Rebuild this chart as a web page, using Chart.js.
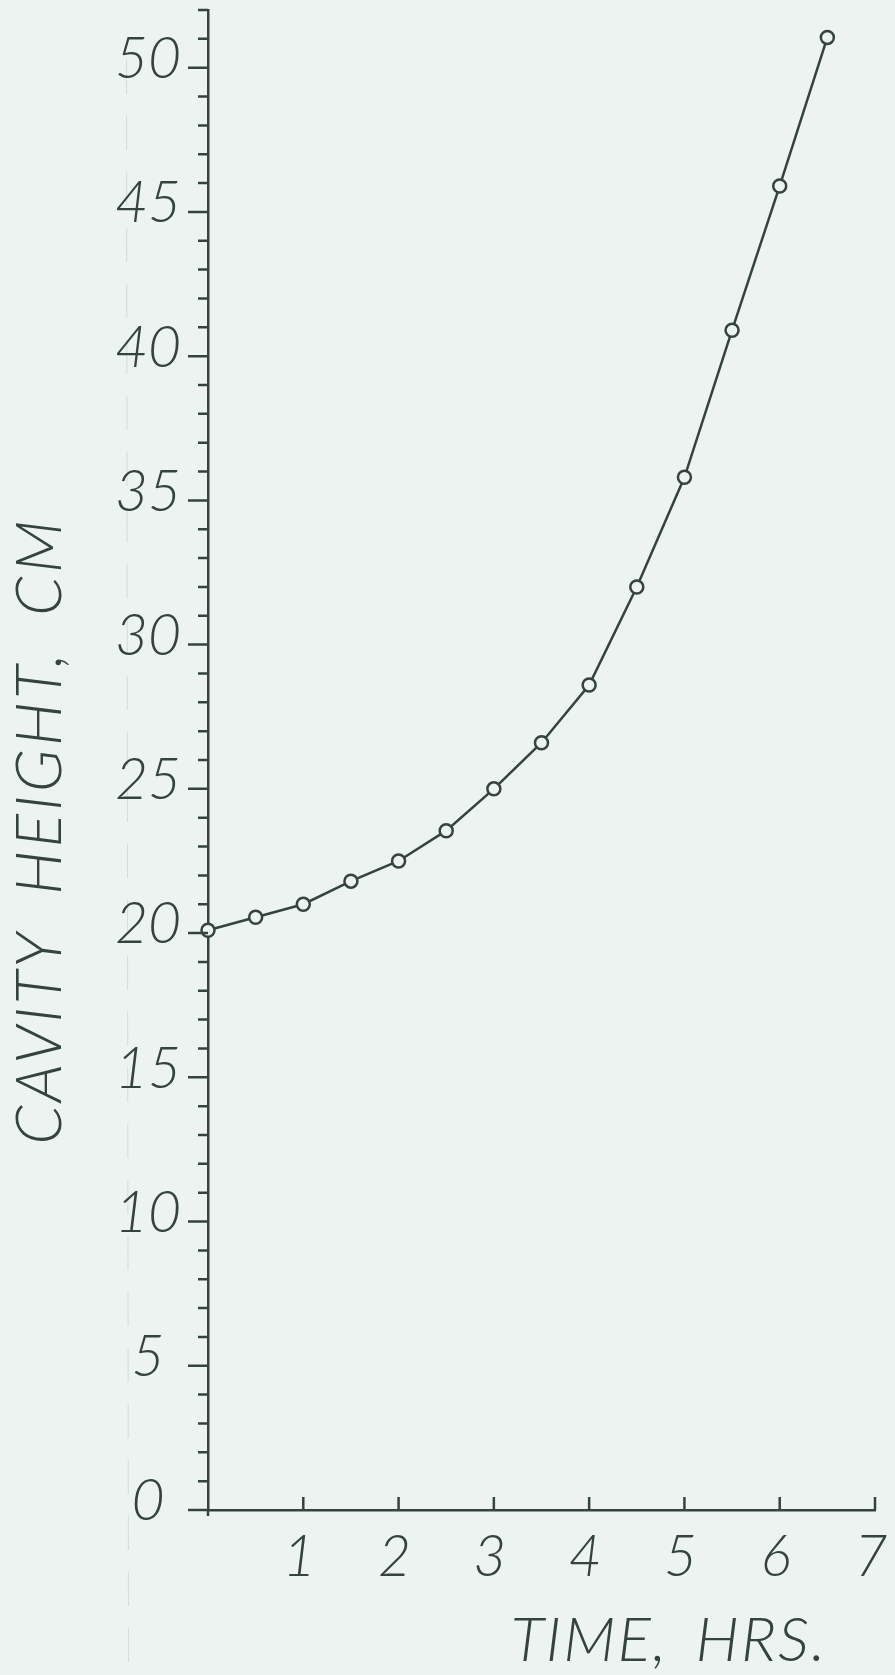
<!DOCTYPE html>
<html>
<head>
<meta charset="utf-8">
<title>Cavity height vs time</title>
<script src="https://cdn.jsdelivr.net/npm/chart.js@4"></script>
<style>
  html, body { margin: 0; padding: 0; background: #edf3f1; }
  canvas { display: block; }
</style>
</head>
<body>
<canvas id="chart" width="895" height="1675"></canvas>
<script>
// Measured cavity height over time
const timeHrs = [0, 0.5, 1, 1.5, 2, 2.5, 3, 3.5, 4, 4.5, 5, 5.5, 6, 6.5];
const cavityHeightCm = [20.1, 20.55, 21.0, 21.8, 22.5, 23.55, 25.0, 26.6, 28.6, 32.0, 35.8, 40.9, 45.9, 51.05];

// Axis labels
const xTickLabels = ['', '1', '2', '3', '4', '5', '6', '7'];
const yTickLabels = ['0', '5', '10', '15', '20', '25', '30', '35', '40', '45', '50'];
const xTitle = 'TIME, HRS.';
const yTitle = 'CAVITY HEIGHT, CM';

const INK = '#34433f';
const PAPER = '#edf3f1';
const LETTER = 'Lato, "Open Sans", "DejaVu Sans", sans-serif';

// Paper background plus the faint fold line running down the sheet
const paper = {
  id: 'paper',
  beforeDraw(chart) {
    const { ctx, width, height } = chart;
    ctx.save();
    ctx.fillStyle = PAPER;
    ctx.fillRect(0, 0, width, height);
    ctx.strokeStyle = 'rgba(150,165,163,0.3)';
    ctx.lineWidth = 1;
    ctx.setLineDash([34, 22]);
    ctx.beginPath();
    ctx.moveTo(126.5, 60);
    ctx.lineTo(128.5, height);
    ctx.stroke();
    ctx.restore();
  }
};

// Tick marks: long outside ticks at labelled heights, short ones between;
// upward ticks on the time axis
const axisMarks = {
  id: 'axisMarks',
  afterDraw(chart) {
    const { ctx, scales: { x, y } } = chart;
    ctx.save();
    ctx.strokeStyle = INK;
    ctx.lineWidth = 2.5;
    ctx.beginPath();
    y.ticks.forEach(t => {
      const py = y.getPixelForValue(t.value);
      const len = t.label ? 20 : 10;
      ctx.moveTo(y.right - len, py);
      ctx.lineTo(y.right, py);
    });
    x.ticks.forEach(t => {
      if (t.value === 0) return;
      const px = x.getPixelForValue(t.value);
      ctx.moveTo(px, x.top);
      ctx.lineTo(px, x.top - 13);
    });
    // small overrun of the axes where they cross
    ctx.moveTo(x.left, x.top);
    ctx.lineTo(x.left, x.top + 6);
    ctx.stroke();
    ctx.restore();
  }
};

// Axis titles in lettering-guide style
const axisTitles = {
  id: 'axisTitles',
  afterDraw(chart) {
    const { ctx, chartArea } = chart;
    ctx.save();
    ctx.fillStyle = INK;
    ctx.textAlign = 'center';
    ctx.textBaseline = 'middle';
    ctx.font = 'italic 300 62px ' + LETTER;
    ctx.letterSpacing = '2px';
    ctx.wordSpacing = '10px';
    ctx.fillText(xTitle, chartArea.right - 206, chartArea.bottom + 131);
    ctx.font = 'italic 300 63px ' + LETTER;
    ctx.letterSpacing = '3px';
    ctx.wordSpacing = '16px';
    ctx.translate(chartArea.left - 167, (chartArea.top + chartArea.bottom) / 2 + 71);
    ctx.rotate(-Math.PI / 2);
    ctx.fillText(yTitle, 0, 0);
    ctx.restore();
  }
};

const tickFont = { family: LETTER, size: 57, style: 'italic', weight: '300' };

new Chart(document.getElementById('chart'), {
  type: 'line',
  data: {
    datasets: [{
      data: timeHrs.map((t, i) => ({ x: t, y: cavityHeightCm[i] })),
      borderColor: INK,
      borderWidth: 2.5,
      tension: 0,
      pointRadius: 6.5,
      pointBorderWidth: 2.5,
      pointBorderColor: INK,
      pointBackgroundColor: PAPER,
      clip: false
    }]
  },
  options: {
    responsive: false,
    animation: false,
    events: [],
    plugins: { legend: { display: false }, tooltip: { enabled: false } },
    layout: { padding: { top: 10, right: 20, left: 0, bottom: 0 } },
    scales: {
      x: {
        type: 'linear',
        min: 0,
        max: 7,
        ticks: {
          stepSize: 1,
          autoSkip: false,
          maxRotation: 0,
          padding: 13,
          labelOffset: -4,
          color: INK,
          font: tickFont,
          callback: v => xTickLabels[v] ?? ''
        },
        grid: { drawOnChartArea: false, drawTicks: false },
        border: { display: true, color: INK, width: 2.5 },
        afterFit(s) { s.height = 165; s.paddingLeft = 0; s.paddingRight = 0; }
      },
      y: {
        type: 'linear',
        min: 0,
        max: 52,
        ticks: {
          stepSize: 1,
          autoSkip: false,
          crossAlign: 'center',
          padding: 27,
          labelOffset: -8,
          color: INK,
          font: tickFont,
          callback: v => yTickLabels.includes(String(v)) ? String(v) : ''
        },
        grid: { drawOnChartArea: false, drawTicks: false },
        border: { display: true, color: INK, width: 2.5 },
        afterFit(s) { s.width = 208; s.paddingTop = 0; s.paddingBottom = 0; }
      }
    }
  },
  plugins: [paper, axisMarks, axisTitles]
});
</script>
</body>
</html>
